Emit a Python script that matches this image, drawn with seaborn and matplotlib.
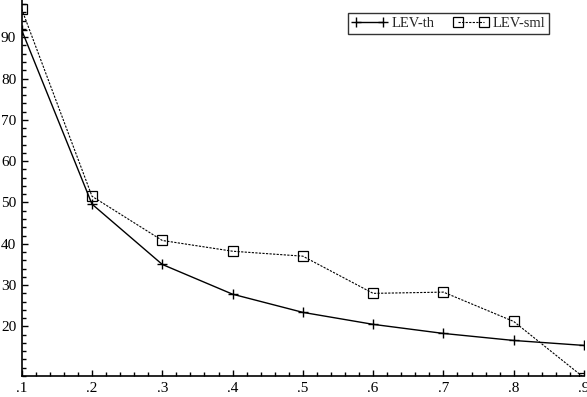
import matplotlib
matplotlib.use("Agg")
import matplotlib.pyplot as plt
from matplotlib.ticker import MultipleLocator, FixedLocator, FixedFormatter
import numpy as np
import pandas as pd
import seaborn as sns

# threshold values on the x axis
thresholds = [0.1, 0.2, 0.3, 0.4, 0.5, 0.6, 0.7, 0.8, 0.9]
x_tick_labels = [".1", ".2", ".3", ".4", ".5", ".6", ".7", ".8", ".9"]

# theoretical and simulated LEV curves
lev_th = [91.7, 49.6, 35.0, 27.8, 23.4, 20.5, 18.3, 16.6, 15.4]
lev_sml = [96.8, 51.5, 40.8, 38.2, 37.0, 28.0, 28.3, 21.2, 7.6]

y_ticks = [20, 30, 40, 50, 60, 70, 80, 90]

df = pd.DataFrame({
    "threshold": thresholds * 2,
    "value": lev_th + lev_sml,
    "series": ["LEV-th"] * len(thresholds) + ["LEV-sml"] * len(thresholds),
})

sns.set_theme(style="ticks")
plt.rcParams["font.family"] = ["Liberation Serif", "DejaVu Serif"]

fig = plt.figure(figsize=(5.87, 3.97), dpi=100)
ax = fig.add_axes([21.7 / 587, 21 / 397, (584 - 21.7) / 587, 376 / 397])

sns.lineplot(
    data=df[df.series == "LEV-th"], x="threshold", y="value", ax=ax,
    color="black", linewidth=1.0, marker="+", markersize=7,
    markeredgewidth=1.0, markeredgecolor="black", label="LEV-th",
)
sns.lineplot(
    data=df[df.series == "LEV-sml"], x="threshold", y="value", ax=ax,
    color="black", linewidth=0.8, linestyle=(0, (2, 1.2)), marker="s",
    markersize=6.5, markerfacecolor="none", markeredgecolor="black",
    markeredgewidth=0.9, label="LEV-sml",
)

ax.set_xlim(0.1, 0.9)
ax.set_ylim(8, 99)
ax.xaxis.set_major_locator(FixedLocator(thresholds))
ax.xaxis.set_major_formatter(FixedFormatter(x_tick_labels))
ax.xaxis.set_minor_locator(MultipleLocator(0.02))
ax.yaxis.set_major_locator(FixedLocator(y_ticks))
ax.yaxis.set_minor_locator(MultipleLocator(2))
ax.tick_params(which="both", direction="in", color="black", width=1.0,
               labelsize=11, labelcolor="black")
ax.tick_params(which="major", length=4, pad=4)
ax.tick_params(which="minor", length=3)
ax.set_xlabel("")
ax.set_ylabel("")

for side in ("top", "right"):
    ax.spines[side].set_visible(False)
for side in ("left", "bottom"):
    ax.spines[side].set_color("black")
    ax.spines[side].set_linewidth(1.2)

leg = ax.legend(
    loc="upper right", bbox_to_anchor=(549 / 587, 1 - 13 / 397),
    bbox_transform=fig.transFigure, ncol=2, frameon=True, fancybox=False,
    fontsize=10.5, numpoints=2, handlelength=2.4, handletextpad=0.3,
    columnspacing=1.3, borderpad=0.25, borderaxespad=0,
)
leg.get_frame().set_edgecolor("black")
leg.get_frame().set_linewidth(1.0)

fig.savefig("out.png", dpi=100)
